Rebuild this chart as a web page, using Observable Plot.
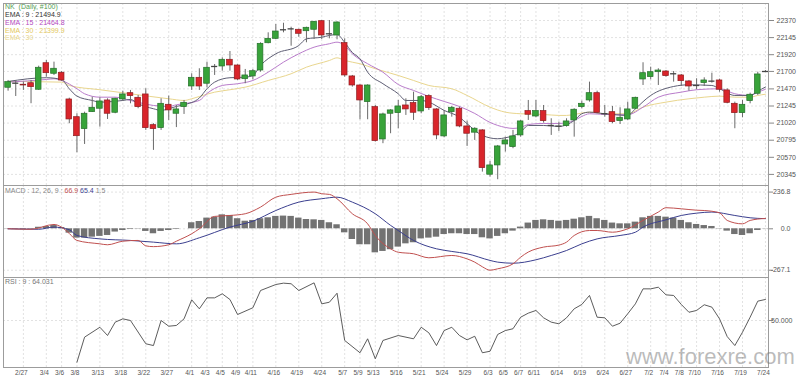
<!DOCTYPE html>
<html><head><meta charset="utf-8">
<script src="https://cdn.jsdelivr.net/npm/d3@7"></script>
<script src="https://cdn.jsdelivr.net/npm/@observablehq/plot@0.6"></script>
<style>
body{margin:0;background:#fff;}
#wrap{position:relative;width:800px;height:378px;overflow:hidden;background:#fff;font-family:"Liberation Sans",Arial,sans-serif;}
.panel{position:absolute;left:0;}
.lbl{position:absolute;left:5px;font-size:7px;line-height:7px;white-space:pre;}
.wm{position:absolute;left:626px;top:344px;font-size:22px;color:rgba(120,120,120,0.5);white-space:pre;font-family:"Liberation Sans",Arial,sans-serif;}
</style></head><body><div id="wrap"></div>
<script>
const dates = ["2/25","2/26","2/27","2/28","3/1","3/4","3/5","3/6","3/7","3/8","3/11","3/12","3/13","3/14","3/15","3/18","3/19","3/20","3/22","3/25","3/26","3/27","3/28","3/29","4/1","4/2","4/3","4/4","4/5","4/8","4/9","4/10","4/11","4/12","4/15","4/16","4/17","4/18","4/19","4/22","4/23","4/24","4/25","4/26","5/7","5/8","5/9","5/10","5/13","5/14","5/15","5/16","5/17","5/20","5/21","5/22","5/23","5/24","5/27","5/28","5/29","5/30","5/31","6/3","6/4","6/5","6/6","6/7","6/10","6/11","6/12","6/13","6/14","6/17","6/18","6/19","6/20","6/21","6/24","6/25","6/26","6/27","6/28","7/1","7/2","7/3","7/4","7/5","7/8","7/9","7/10","7/11","7/12","7/16","7/17","7/18","7/19","7/22","7/23","7/24"];
const dateTicks = ["2/27","3/4","3/6","3/8","3/13","3/18","3/22","3/27","4/1","4/3","4/5","4/9","4/11","4/16","4/19","4/24","5/7","5/9","5/13","5/16","5/21","5/24","5/29","6/3","6/5","6/7","6/11","6/14","6/19","6/24","6/27","7/2","7/4","7/8","7/10","7/16","7/19","7/24"];

const open  = [21485,21545,21525,21545,21459,21808,21669,21682,21331,21098,20941,21164,21209,21318,21156,21331,21414,21353,21397,20993,20954,21261,21143,21230,21502,21616,21538,21765,21765,21853,21778,21598,21634,21712,22071,22129,22248,22260,22248,22229,22248,22361,22195,22173,22072,21634,21515,21296,21230,20805,21143,21151,21252,21283,21173,21375,21200,20845,21164,21209,20976,20894,20924,20341,20463,20739,20704,20858,21178,21107,21178,20989,20980,20980,21055,21230,21318,21414,21143,21164,21046,21068,21209,21594,21625,21690,21699,21669,21647,21568,21515,21546,21572,21581,21450,21274,21151,21309,21406,21699];
const high  = [21581,21575,21560,21581,21769,21844,21822,21699,21348,21143,21164,21361,21353,21340,21348,21440,21450,21384,21472,21012,21340,21375,21252,21318,21669,21735,21822,21791,21879,21962,21787,21726,21726,22077,22208,22317,22334,22282,22256,22282,22357,22370,22370,22353,22129,21647,21524,21524,21252,21151,21196,21318,21340,21427,21384,21393,21209,21187,21239,21230,21046,20959,20933,20516,20726,20835,20924,21055,21318,21318,21252,21077,21033,21077,21209,21309,21559,21440,21252,21239,21222,21296,21361,21814,21756,21735,21712,21699,21660,21581,21603,21616,21677,21598,21472,21296,21318,21414,21690,21712];
const low   = [21440,21370,21450,21275,21450,21624,21647,21568,21012,20630,20739,21160,20967,21068,21143,21309,21274,21209,20924,20661,20924,21055,20961,21134,21450,21450,21485,21647,21703,21703,21581,21538,21590,21690,22063,22120,22208,22032,22150,22077,22120,22120,22129,22116,21624,21493,21064,21064,20770,20749,20880,20946,21121,21055,21143,21187,20801,20827,21098,20959,20713,20792,20375,20310,20275,20639,20683,20835,21055,21090,21020,20858,20910,20967,20835,21209,21296,21143,21098,21012,21002,21055,21196,21515,21590,21515,21624,21559,21502,21440,21459,21502,21546,21427,21274,20946,21090,21274,21384,21690];
const close = [21559,21545,21515,21493,21748,21677,21735,21581,21068,20848,21143,21222,21305,21143,21340,21397,21375,21230,20954,20941,21274,21187,21200,21287,21616,21502,21748,21765,21853,21778,21594,21647,21703,22063,22129,22225,22248,22260,22195,22274,22353,22173,22195,22344,21647,21515,21318,21515,20783,21134,21187,21239,21200,21156,21361,21217,20858,21121,21222,20976,20880,20946,20428,20463,20713,20792,20845,21042,21130,21178,21046,20989,20980,21042,21196,21274,21414,21156,21143,21033,21090,21200,21353,21677,21690,21712,21638,21669,21572,21502,21515,21581,21572,21459,21287,21151,21261,21393,21660,21699];

const ema9Idx  = [0,5,7,8,9,11,12,15,16,17,19,20,21,22,23,25,26,27,29,31,32,33,35,38,39,41,42,43,44,45,46,47,49,51,52,54,55,57,59,60,62,64,65,67,68,70,72,74,75,76,78,81,82,84,87,89,92,93,95,97,98,99];
const ema9Val  = [21568,21617,21594,21472,21375,21318,21296,21318,21331,21275,21209,21187,21209,21239,21261,21350,21472,21559,21617,21624,21647,21778,21932,22041,22129,22150,22173,22186,22081,21949,21866,21690,21538,21406,21318,21318,21296,21187,21098,21012,20858,20814,20827,20901,20989,20989,20976,21055,21143,21164,21143,21121,21209,21384,21502,21524,21515,21472,21384,21384,21440,21494.9];
const ema15Idx = [0,5,6,7,9,10,12,14,16,19,21,22,25,26,28,30,32,34,36,38,40,42,43,44,45,47,49,51,53,55,57,59,61,63,65,66,67,68,70,72,74,75,76,78,81,83,85,88,90,93,95,97,98,99];
const ema15Val = [21559,21594,21603,21581,21472,21406,21361,21361,21318,21252,21239,21261,21318,21410,21515,21538,21581,21690,21822,21932,22019,22064,22085,22041,21932,21801,21690,21528,21450,21371,21305,21239,21147,21029,20963,20950,20963,21002,21015,21015,21055,21108,21143,21134,21130,21230,21361,21427,21459,21472,21406,21384,21427,21464.8];
const ema30Idx = [0,7,8,12,16,21,23,24,25,27,29,31,34,37,39,42,43,44,46,48,51,53,55,58,60,63,65,67,70,72,73,76,78,81,83,86,89,91,93,95,97,98,99];
const ema30Val = [21568,21559,21515,21459,21406,21340,21318,21340,21370,21427,21459,21493,21581,21669,21756,21844,21879,21844,21801,21735,21647,21581,21515,21472,21384,21230,21164,21143,21134,21121,21121,21164,21143,21143,21230,21296,21340,21361,21375,21361,21361,21384,21399.9];

const macdIdx = [0,3,6,7,8,9,12,13,15,17,18,19,21,22,24,25,27,29,31,33,35,37,40,41,42,43,45,47,48,50,51,53,55,58,60,61,62,63,64,66,67,68,70,72,73,74,76,77,79,81,83,85,86,88,90,91,93,94,96,97,99];
const macdVal = [0,-3,28,10,-30,-75,-97,-103,-80,-75,-110,-115,-103,-80,-32,0,80,86,97,140,204,222,236.8,226,222,194,97,32,-43,-129,-151,-161,-187,-172,-194,-215,-245,-267.1,-258,-226,-183,-150,-118,-105,-86,-43,-11,-11,-22,0,54,108,136,129,120,118,103,54,32,54,66.9];
const signalIdx = [0,4,6,8,9,12,16,19,22,25,29,32,35,38,41,43,45,48,50,51,53,56,58,60,63,64,66,69,71,73,75,77,80,82,83,86,88,90,92,95,97,99];
const signalVal = [0,-3,11,-6,-43,-65,-75,-86,-97,-58,11,49,118,172,194,204,172,97,22,-11,-75,-129,-146,-161,-204,-215,-222,-200,-172,-140,-97,-65,-43,-22,11,58,86,101,108,86,71,65.4];
const histVal = [-2,-3,-4,-3,10,15,21,8,-28,-60,-60,-54,-49,-43,-21,-11,-4,-2,-17,-32,-17,-11,-4,0,39,47,69,75,90,86,65,49,54,65,71,80,82,80,69,60,58,54,39,26,-26,-69,-103,-103,-155,-146,-135,-118,-97,-90,-65,-60,-54,-37,-32,-32,-37,-37,-58,-65,-49,-32,-15,11,37,54,58,54,49,54,62,71,80,65,54,37,32,32,43,71,80,80,75,69,54,39,28,21,15,-2,-15,-37,-43,-32,-11,1.5];

const rsiIdx = [9,10,12,13,14,15,16,18,19,20,21,22,23,24,25,26,27,28,29,30,32,33,35,36,37,38,40,41,42,43,44,46,47,48,49,51,53,54,55,56,57,58,59,60,61,62,63,64,65,66,67,68,69,70,71,72,73,74,75,76,77,78,79,80,81,82,83,84,85,86,87,88,89,90,91,92,93,94,95,96,97,98,99];
const rsiVal = [22.2,38.9,45.5,40,48.9,51.1,50,34.5,33.3,50,46.2,46.7,51.1,63.8,57.8,65.1,65.1,67.8,64,54,58.5,70,74,74.9,74.5,70,75.1,61.1,62.2,68.2,36.7,28.5,37.8,24.5,36.7,40,37.8,45.5,41.8,33.3,43.3,45.5,40,37.1,39.5,28.5,29.5,40.7,43.3,44.5,52.2,54.9,56.7,51.8,48.9,47.8,51.8,57.8,60.7,66.7,52.2,51.8,46.2,48.2,54.5,61.1,71.1,71.1,72.2,67.1,66.7,60.7,55.5,56.7,60.5,58.9,51.1,39.3,33.3,42.2,52.2,62.9,64.031];

const priceTicks = [22370,22145,21920,21700,21470,21245,21020,20795,20570,20345];
const macdTicks = [236.8,0,-267.1];
const macdTickLabels = ["236.8","0.0","-267.1"];
const rsiTicks = [50];
const rsiTickLabels = ["50.000"];

// ---- build ----
const FONT = "Liberation Sans, Arial, sans-serif";
const candles = dates.map((d,i)=>({i, o:open[i], h:high[i], l:low[i], c:close[i]}));
const bodies = candles.filter(d=>d.o!==d.c);
const dojis = candles.filter(d=>d.o===d.c);
const pairs = (idx, val) => idx.map((i,k)=>({i, v:val[k]}));
const tickIdx = dateTicks.map(t=>dates.indexOf(t));
const xDom = [-0.6, 99.4];
const base = {width:800, marginLeft:3, marginRight:32,
  x:{domain:xDom, axis:null, label:null},
  style:{background:"transparent", fontFamily:FONT, color:"#555", overflow:"visible"}};
const grid = {stroke:"#e2e2e2", strokeDasharray:"2,2"};

const pricePlot = Plot.plot({
  ...base, height:185, marginTop:3, marginBottom:0,
  y:{domain:[20199, 22593.7], axis:null, label:null},
  marks:[
    Plot.ruleY(priceTicks, grid),
    Plot.ruleX(tickIdx, grid),
    Plot.line(pairs(ema30Idx, ema30Val), {x:"i", y:"v", stroke:"#e9d68e", strokeWidth:1, curve:"monotone-x"}),
    Plot.line(pairs(ema15Idx, ema15Val), {x:"i", y:"v", stroke:"#b97ccb", strokeWidth:1, curve:"monotone-x"}),
    Plot.line(pairs(ema9Idx, ema9Val), {x:"i", y:"v", stroke:"#5e5e74", strokeWidth:1, curve:"monotone-x"}),
    Plot.ruleX(candles, {x:"i", y1:"l", y2:"h", stroke:"#6a6a6a", strokeWidth:1}),
    Plot.rect(bodies, {x1:d=>d.i-0.37, x2:d=>d.i+0.37, y1:"o", y2:"c",
      fill:d=>d.c>d.o?"#38a33a":"#d9252b", stroke:d=>d.c>d.o?"#25702a":"#8f1c1f", strokeWidth:0.7}),
    Plot.ruleY(dojis, {x1:d=>d.i-0.4, x2:d=>d.i+0.4, y:"c", stroke:"#444", strokeWidth:1.3}),
    Plot.axisY(priceTicks, {anchor:"right", label:null, tickSize:5, tickPadding:3, stroke:"#888", fill:"#555", fontSize:7, tickFormat:d=>String(d)}),
    Plot.frame({stroke:"#9c9c9c"})
  ]
});

const macdPlot = Plot.plot({
  ...base, height:92, marginTop:0, marginBottom:0,
  y:{domain:[-314.1, 279.3], axis:null, label:null},
  marks:[
    Plot.ruleY(macdTicks, grid),
    Plot.ruleX(tickIdx, grid),
    Plot.rect(histVal.map((v,i)=>({i, v})), {x1:d=>d.i-0.42, x2:d=>d.i+0.42, y1:0, y2:"v", fill:"#727272"}),
    Plot.line(pairs(signalIdx, signalVal), {x:"i", y:"v", stroke:"#3b3f8f", strokeWidth:1, curve:"monotone-x"}),
    Plot.line(pairs(macdIdx, macdVal), {x:"i", y:"v", stroke:"#c0504f", strokeWidth:1, curve:"monotone-x"}),
    Plot.axisY(macdTicks, {anchor:"right", label:null, tickSize:4, tickPadding:18, textAnchor:"end", stroke:"#888", fill:"#555", fontSize:7,
      tickFormat:d=>macdTickLabels[macdTicks.indexOf(d)]}),
    Plot.frame({stroke:"#9c9c9c"})
  ]
});

const rsiPlot = Plot.plot({
  ...base, height:101, marginTop:0, marginBottom:11,
  y:{domain:[18.67, 78.67], axis:null, label:null},
  marks:[
    Plot.ruleY(rsiTicks, grid),
    Plot.ruleX(tickIdx, grid),
    Plot.line(pairs(rsiIdx, rsiVal), {x:"i", y:"v", stroke:"#4a4a4a", strokeWidth:0.9}),
    Plot.axisY(rsiTicks, {anchor:"right", label:null, tickSize:4, tickPadding:20, textAnchor:"end", stroke:"#888", fill:"#555", fontSize:7,
      tickFormat:d=>rsiTickLabels[rsiTicks.indexOf(d)]}),
    Plot.axisX(tickIdx, {anchor:"bottom", label:null, tickSize:0, tickPadding:3, fill:"#555", fontSize:6.5, dx:-2, tickFormat:i=>dates[i]}),
    Plot.frame({stroke:"#9c9c9c"})
  ]
});

const wrap = document.getElementById("wrap");
function place(el, top){ const d=document.createElement("div"); d.className="panel"; d.style.top=top+"px"; d.appendChild(el); wrap.appendChild(d); }
place(pricePlot, 0);
place(macdPlot, 185);
place(rsiPlot, 277);

function label(html, top){ const d=document.createElement("div"); d.className="lbl"; d.style.top=top+"px"; d.innerHTML=html; wrap.appendChild(d); }
label('<span style="color:#55a055">NK  (Daily, #100)</span>', 3);
label('<span style="color:#333">EMA : 9 : 21494.9</span>', 11);
label('<span style="color:#b448c0">EMA : 15 : 21464.8</span>', 19);
label('<span style="color:#e3c860">EMA : 30 : 21399.9</span>', 26.5);
label('<span style="color:#e9d88e">EMA : 30</span>', 34);
label('<span style="color:#888">MACD : 12, 26, 9 : </span><span style="color:#c0504f">66.9</span> <span style="color:#3b3f8f">65.4</span> <span style="color:#888">1.5</span>', 187);
label('<span style="color:#777">RSI : 9 : 64.031</span>', 278);
const wm = document.createElement("div"); wm.className="wm"; wm.textContent="www.forexre.com"; wrap.appendChild(wm);
</script>
</body></html>
